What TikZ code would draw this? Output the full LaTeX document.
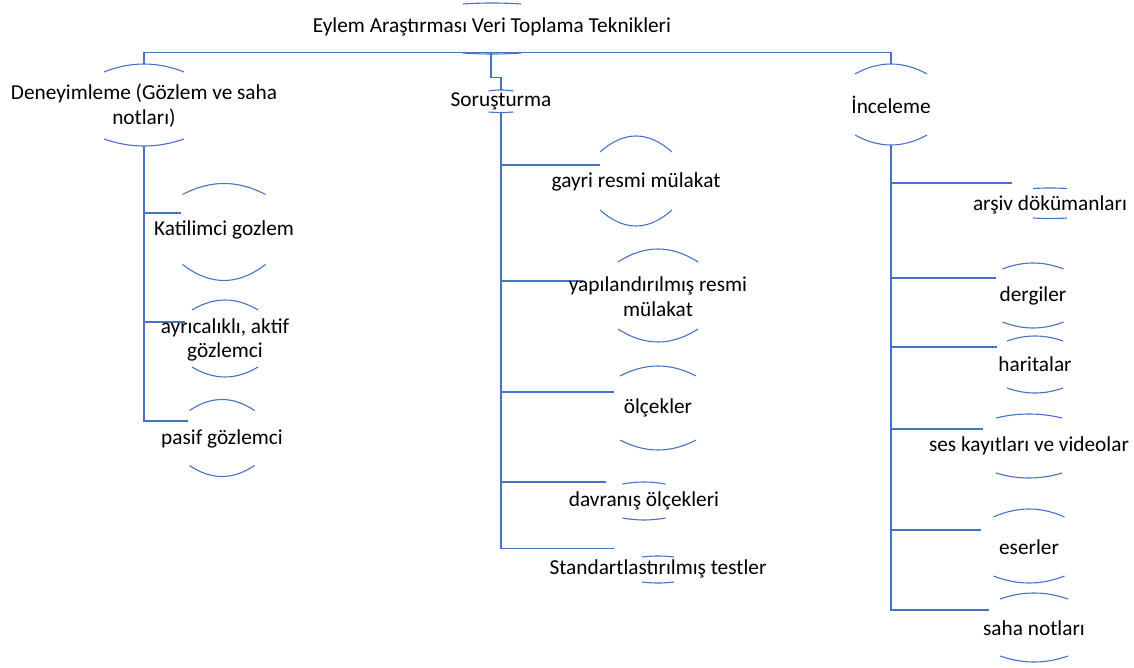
\documentclass[tikz,border=0pt]{standalone}
\usepackage{fontspec}
\setmainfont{Carlito}
\usetikzlibrary{backgrounds}

\definecolor{orgblue}{HTML}{4472C4}

% the two open caps of a node: name, half width, top end, top apex, bottom end, bottom apex
\newcommand{\nodecaps}[6]{%
  \begin{scope}[shift={(#1.center)}]
    \draw[capline] (-#2,#3) .. controls ({-(#2)/3},{(4*(#4)-(#3))/3}) and ({(#2)/3},{(4*(#4)-(#3))/3}) .. (#2,#3);
    \draw[capline] (-#2,#5) .. controls ({-(#2)/3},{(4*(#6)-(#5))/3}) and ({(#2)/3},{(4*(#6)-(#5))/3}) .. (#2,#5);
    \coordinate (#1-top) at (0,#4);
    \coordinate (#1-bot) at (0,#6);
  \end{scope}}

\begin{document}
\begin{tikzpicture}[
    x=1pt, y=-1pt,
    item/.style={inner sep=0pt, align=center, font=\fontsize{21.3}{24.5}\selectfont},
    capline/.style={draw=orgblue, line width=1.1pt},
    link/.style={draw=orgblue, line width=1.4pt}
  ]
  \useasboundingbox (0,0) rectangle (1134,668);

  % Root and the three groups
  \node[item] (root) at (492,27) {Eylem Araştırması Veri Toplama Teknikleri};
  \node[item] (den) at (144,105.5) {Deneyimleme (Gözlem ve saha\\notları)};
  \node[item] (sor) at (501,101) {Soruşturma};
  \node[item] (inc) at (891,105) {İnceleme};

  % Deneyimleme children
  \node[item] (kat) at (224,229.5) {Katilimci gozlem};
  \node[item] (ayr) at (225,340) {ayrıcalıklı, aktif\\gözlemci};
  \node[item] (pas) at (222,438.5) {pasif gözlemci};

  % Soruşturma children
  \node[item] (gay) at (636,182) {gayri resmi mülakat};
  \node[item] (yap) at (658,296.5) {yapılandırılmış resmi\\mülakat};
  \node[item] (olc) at (658,408) {ölçekler};
  \node[item] (dav) at (644,501) {davranış ölçekleri};
  \node[item] (std) at (658,569) {Standartlastırılmış testler};

  % İnceleme children
  \node[item] (ars) at (1050,205) {arşiv dökümanları};
  \node[item] (der) at (1033,296) {dergiler};
  \node[item] (har) at (1035,364) {haritalar};
  \node[item] (ses) at (1029,446) {ses kayıtları ve videolar};
  \node[item] (ese) at (1029,547) {eserler};
  \node[item] (sah) at (1034,628) {saha notları};

  % Caps above and below the texts
  \nodecaps{root}{29}{-23}{-24}{26}{27}
  \nodecaps{den}{40}{-33.5}{-41.5}{33.5}{40.5}
  \nodecaps{sor}{12.5}{-10}{-11}{11}{11.5}
  \nodecaps{inc}{36}{-31}{-41}{30}{40}
  \nodecaps{kat}{41.5}{-35}{-46}{35}{51}
  \nodecaps{ayr}{33}{-30}{-40}{27}{37}
  \nodecaps{pas}{32.5}{-28}{-39}{27}{38}
  \nodecaps{gay}{36}{-30}{-46}{28}{44}
  \nodecaps{yap}{40}{-34.5}{-47.5}{32.5}{45.5}
  \nodecaps{olc}{38}{-32}{-42}{32}{42}
  \nodecaps{dav}{21.5}{-17}{-19}{17}{19}
  \nodecaps{std}{16}{-12}{-13}{13}{14}
  \nodecaps{ars}{17}{-16.5}{-17}{13}{13.5}
  \nodecaps{der}{30.5}{-27}{-33}{26}{32}
  \nodecaps{har}{28}{-23}{-28}{24}{29}
  \nodecaps{ses}{33}{-28}{-32}{27}{32}
  \nodecaps{ese}{35.5}{-30}{-38}{29}{36}
  \nodecaps{sah}{34}{-29}{-35}{28}{34}

  % Branch ends
  \coordinate (bus) at (491,52.7);
  \coordinate (kat-in) at (181,213);
  \coordinate (ayr-in) at (185,322);
  \coordinate (pas-in) at (188,421);
  \coordinate (gay-in) at (600,165);
  \coordinate (yap-in) at (583,281);
  \coordinate (olc-in) at (614,392);
  \coordinate (dav-in) at (606,482);
  \coordinate (std-in) at (614,548.5);
  \coordinate (ars-in) at (1012,183);
  \coordinate (der-in) at (996,278);
  \coordinate (har-in) at (997,347);
  \coordinate (ses-in) at (983,429);
  \coordinate (ese-in) at (981,530);
  \coordinate (sah-in) at (989,610);

  \begin{scope}[on background layer]
    % Root to groups
    \draw[link] (den-top) -- (den-top |- bus) -- (inc-top |- bus) -- (inc-top);
    \draw[link] (bus) -- ++(0,25) -| (sor-top);

    % Group trunks
    \foreach \c in {kat,ayr,pas} \draw[link] (den-bot) |- (\c-in);
    \foreach \c in {gay,yap,olc,dav,std} \draw[link] (sor-bot) |- (\c-in);
    \foreach \c in {ars,der,har,ses,ese,sah} \draw[link] (inc-bot) |- (\c-in);
  \end{scope}

\end{tikzpicture}
\end{document}
